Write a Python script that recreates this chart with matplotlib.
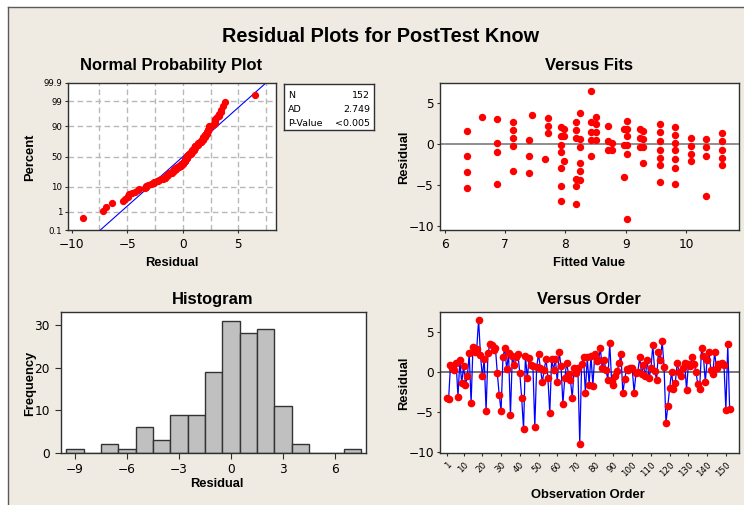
import matplotlib
matplotlib.use('Agg')
import matplotlib.pyplot as plt
from matplotlib.lines import Line2D
from matplotlib.patches import Rectangle
import numpy as np
from statistics import NormalDist

# ---------------- data ----------------
residuals = [
    -3.3, -3.4, 0.8, 0.4, 0.2, 1.1, -3.1, 1.4, -1.4, 0.7,
    -1.6, -0.6, 2.3, -3.9, 3.1, 2.4, 2.8, 6.5, 2.1, -0.6,
    1.6, -4.9, 2.3, 3.4, 3.3, 2.7, 2.9, -0.2, -2.9, -4.9,
    1.8, 2.9, 0.3, 2.3, -5.4, 2.0, 0.8, 1.8, 2.2, -0.2,
    -3.3, -7.2, 2.0, -0.8, 1.7, 0.8, 0.7, -6.9, 0.6, 2.2,
    0.4, -1.3, 0.2, 1.6, -0.8, -5.2, 1.6, 0.2, 1.6, -1.3,
    2.45, 0.7, -4.0, -0.8, 1.1, -0.3, -1.0, -3.3, 0.4, -0.2,
    0.4, -9.0, 1.0, 1.8, -2.6, 1.8, -1.6, 2.0, -1.8, 2.2,
    1.3, 1.4, 2.9, 0.45, 1.4, 0.2, -1.0, 3.6, -1.2, -1.6,
    -0.6, 0.1, 1.1, 2.2, -2.7, -0.9, 0.3, 0.2, 0.45, 0.4,
    -2.6, -0.2, 0.0, 1.8, -0.3, 0.8, -0.55, 1.4, -0.8, 0.4,
    3.3, 0.1, -1.0, 2.4, 1.4, 3.8, 0.6, -6.4, -4.3, -2.0,
    0.0, -2.2, -1.4, 1.1, 0.0, -0.6, 0.45, 1.1, -2.3, 1.0,
    0.7, 1.8, 1.0, 0.0, -1.55, -2.1, 2.9, 2.0, -1.3, 1.5,
    2.4, 0.2, -0.3, 2.4, 0.4, 1.0, 1.0, 1.1, 0.8, -4.8,
    3.4, -4.6,
]

hist_centers = [-9, -8, -7, -6, -5, -4, -3, -2, -1, 0, 1, 2, 3, 4, 5, 6, 7]
hist_counts = [1, 0, 2, 1, 6, 3, 9, 9, 19, 31, 28, 29, 11, 2, 0, 0, 1]

fit_values = [
    6.36, 6.36, 6.36, 6.36,
    6.61,
    6.87, 6.87, 6.87, 6.87,
    7.13, 7.13, 7.13, 7.13, 7.13,
    7.39, 7.39, 7.39,
    7.45,
    7.66,
    7.71, 7.71, 7.71,
    7.92, 7.92, 7.92, 7.92, 7.92, 7.92, 7.92,
    7.98, 7.98, 7.98,
    8.18, 8.18, 8.18, 8.18, 8.18, 8.18,
    8.24, 8.24, 8.24, 8.24, 8.24, 8.24,
    8.43, 8.43, 8.43, 8.43, 8.43,
    8.50, 8.50, 8.50, 8.50,
    8.70, 8.70, 8.70,
    8.77, 8.77,
    8.97, 8.97, 8.97,
    9.03, 9.03, 9.03, 9.03, 9.03, 9.03,
    9.24, 9.24, 9.24,
    9.28, 9.28, 9.28, 9.28,
    9.57, 9.57, 9.57, 9.57, 9.57, 9.57, 9.57,
    9.82, 9.82, 9.82, 9.82, 9.82, 9.82, 9.82,
    10.08, 10.08, 10.08, 10.08,
    10.33, 10.33, 10.33, 10.33,
    10.60, 10.60, 10.60, 10.60, 10.60,
]
fit_residuals = [
    1.6, -1.5, -3.45, -5.4,
    3.3,
    3.0, 0.1, -1.0, -4.9,
    2.7, 1.7, 0.7, -0.3, -3.3,
    0.4, -1.5, -3.5,
    3.5,
    -1.85,
    3.1, 2.2, 1.3,
    2.0, 0.9, -0.1, -1.0, -2.95, -5.1, -7.0,
    1.85, 0.9, -2.1,
    2.7, 1.7, 0.7, -4.3, -5.2, -7.3,
    3.7, 0.55, -0.4, -2.3, -3.3, -4.4,
    6.4, 2.6, 1.4, 0.45, -1.5,
    3.3, 2.4, 1.4, 0.45,
    2.2, 0.3, -0.8,
    0.1, -0.8,
    1.85, -0.1, -4.1,
    2.8, 1.85, 0.9, -0.1, -1.2, -9.1,
    1.8, 0.65, -0.35,
    1.6, 0.6, -0.35, -2.3,
    2.4, 1.4, 0.3, -0.7, -1.7, -2.6, -4.6,
    2.0, 1.1, 0.05, -0.8, -1.9, -3.0, -4.9,
    0.75, -0.25, -1.2, -2.1,
    0.6, -0.4, -1.5, -6.3,
    1.3, 0.35, -0.7, -1.7, -2.6,
]

stats_labels = ['N', 'AD', 'P-Value']
stats_values = ['152', '2.749', '<0.005']

prob_ticks = [0.1, 1, 10, 50, 90, 99, 99.9]
prob_tick_labels = ['0.1', '1', '10', '50', '90', '99', '99.9']
prob_grid_pct = [1, 10, 50, 90, 99]
prob_grid_x = [-7.5, -5, -2.5, 0, 2.5, 5, 7.5]
prob_xticks = [-10, -5, 0, 5]
hist_xticks = [-9, -6, -3, 0, 3, 6]
hist_yticks = [0, 10, 20, 30]
fit_xticks = [6, 7, 8, 9, 10]
resid_yticks = [-10, -5, 0, 5]
order_ticks = [1, 10, 20, 30, 40, 50, 60, 70, 80, 90, 100, 110, 120, 130, 140, 150]

# ---------------- styling ----------------
W, H = 744, 505
plt.rcParams['font.family'] = ['DejaVu Sans']
BOLD = ['Liberation Sans', 'DejaVu Sans']
BG = '#efebe2'
FRAME = '#303030'
RED = '#ff0000'
BLUE = '#0000ff'

def fx(px):
    return px / W

def fy(py):
    return 1 - py / H

def rect(l, t, r, b):
    return [fx(l), fy(b), (r - l) / W, (b - t) / H]

fig = plt.figure(figsize=(W / 100, H / 100), dpi=100, facecolor='white')

# beige panel with dark border on left/top
fig.patches.append(Rectangle((fx(8), 0), 1.0, fy(7), transform=fig.transFigure,
                             facecolor=BG, edgecolor='none', zorder=-10))
fig.lines.append(Line2D([fx(8), fx(8)], [0, fy(7)], transform=fig.transFigure,
                        color='#5a5a5a', lw=1.0))
fig.lines.append(Line2D([fx(8), 1], [fy(7), fy(7)], transform=fig.transFigure,
                        color='#5a5a5a', lw=1.0))

def style_axes(ax, xpad=3, ypad=2):
    ax.set_facecolor('white')
    for s in ax.spines.values():
        s.set_color(FRAME)
        s.set_linewidth(1.0)
    ax.tick_params(axis='both', direction='out', length=2.5, width=0.8,
                   color=FRAME, labelsize=8.7, labelcolor='black',
                   top=False, right=False)
    ax.tick_params(axis='x', pad=xpad)
    ax.tick_params(axis='y', pad=ypad)

def btext(x, y, s, size, rot=0):
    if rot:
        fig.text(fx(x), fy(y), s, rotation=90, rotation_mode='anchor',
                 ha='center', va='baseline', fontsize=size,
                 family=BOLD, weight='bold')
    else:
        fig.text(fx(x), fy(y), s, ha='center', va='baseline', fontsize=size,
                 family=BOLD, weight='bold')

# main title
btext(381, 41.5, 'Residual Plots for PostTest Know', 14.3)

# ---------------- Normal probability plot ----------------
nd = NormalDist()
ax1 = fig.add_axes(rect(68, 83, 276, 230))
style_axes(ax1, xpad=3.5, ypad=1.5)
srt = np.sort(np.array(residuals))
n = len(srt)
pct = (np.arange(1, n + 1) - 0.3) / (n + 0.4)
zs = np.array([nd.inv_cdf(q) for q in pct])
for g in prob_grid_pct:
    ax1.axhline(nd.inv_cdf(g / 100), color='#b8b8b8', lw=1.0,
                ls=(0, (4, 2.5)), zorder=1)
for g in prob_grid_x:
    ax1.axvline(g, color='#b8b8b8', lw=1.0, ls=(0, (4, 2.5)), zorder=1)
mu = float(np.mean(srt))
sd = float(np.std(srt, ddof=1))
zl = np.array([-3.6, 3.6])
ax1.plot(mu + sd * zl, zl, color=BLUE, lw=0.8, zorder=2)
ax1.plot(srt, zs, 'o', color=RED, mec=RED, ms=4.2, zorder=3)
ax1.set_xlim(-10.33, 8.39)
ax1.set_ylim(nd.inv_cdf(0.001), nd.inv_cdf(0.999))
ax1.set_xticks(prob_xticks)
ax1.set_yticks([nd.inv_cdf(v / 100) for v in prob_ticks])
ax1.set_yticklabels(prob_tick_labels, fontsize=6.2)
btext(171, 70, 'Normal Probability Plot', 11.9)
btext(172, 266, 'Residual', 9.3)
btext(33, 157, 'Percent', 9.3, rot=90)

# stats box
axs = fig.add_axes(rect(284, 84, 374, 130))
axs.set_facecolor('white')
axs.set_xticks([])
axs.set_yticks([])
for s in axs.spines.values():
    s.set_color(FRAME)
    s.set_linewidth(1.0)
row_y = [95, 109, 123.5]
for lab, val, yy in zip(stats_labels, stats_values, row_y):
    fig.text(fx(288), fy(yy), lab, ha='left', va='center', fontsize=6.8)
    fig.text(fx(370), fy(yy), val, ha='right', va='center', fontsize=6.8)

# ---------------- Versus fits ----------------
ax2 = fig.add_axes(rect(440, 83, 739, 230))
style_axes(ax2)
ax2.axhline(0, color='#707070', lw=1.1, zorder=1)
ax2.plot(fit_values, fit_residuals, 'o', color=RED, mec=RED, ms=4.3, zorder=3)
ax2.set_xlim(5.92, 10.88)
ax2.set_ylim(-10.5, 7.4)
ax2.set_xticks(fit_xticks)
ax2.set_yticks(resid_yticks)
btext(589, 70.5, 'Versus Fits', 11.9)
btext(589, 266, 'Fitted Value', 9.3)
btext(407, 157, 'Residual', 9.3, rot=90)

# ---------------- Histogram ----------------
ax3 = fig.add_axes(rect(61, 312, 366, 453))
style_axes(ax3, xpad=3.5, ypad=4)
ax3.tick_params(length=4)
ax3.bar(hist_centers, hist_counts, width=1.0, color='#c0c0c0',
        edgecolor='#333333', linewidth=1.0, zorder=2)
ax3.set_xlim(-9.81, 7.79)
ax3.set_ylim(0, 33)
ax3.set_xticks(hist_xticks)
ax3.set_yticks(hist_yticks)
btext(213, 304, 'Histogram', 11.9)
btext(217, 487, 'Residual', 9.3)
btext(33, 383, 'Frequency', 9.3, rot=90)

# ---------------- Versus order ----------------
ax4 = fig.add_axes(rect(440, 312, 739, 453))
style_axes(ax4)
obs = np.arange(1, len(residuals) + 1)
ax4.axhline(0, color='#505050', lw=1.1, zorder=1)
ax4.plot(obs, residuals, color=BLUE, lw=0.9, zorder=2)
ax4.plot(obs, residuals, 'o', color=RED, mec=RED, ms=4.5, zorder=3)
ax4.set_xlim(-2.6, 157)
ax4.set_ylim(-10.16, 7.46)
ax4.set_yticks(resid_yticks)
ax4.set_xticks(order_ticks)
ax4.set_xticklabels([str(t) for t in order_ticks], rotation=45,
                    ha='right', va='top', rotation_mode='anchor', fontsize=6.2)
btext(589, 304, 'Versus Order', 11.9)
btext(588, 498, 'Observation Order', 9.3)
btext(407, 383, 'Residual', 9.3, rot=90)

fig.savefig('out.png', dpi=100, facecolor='white')
